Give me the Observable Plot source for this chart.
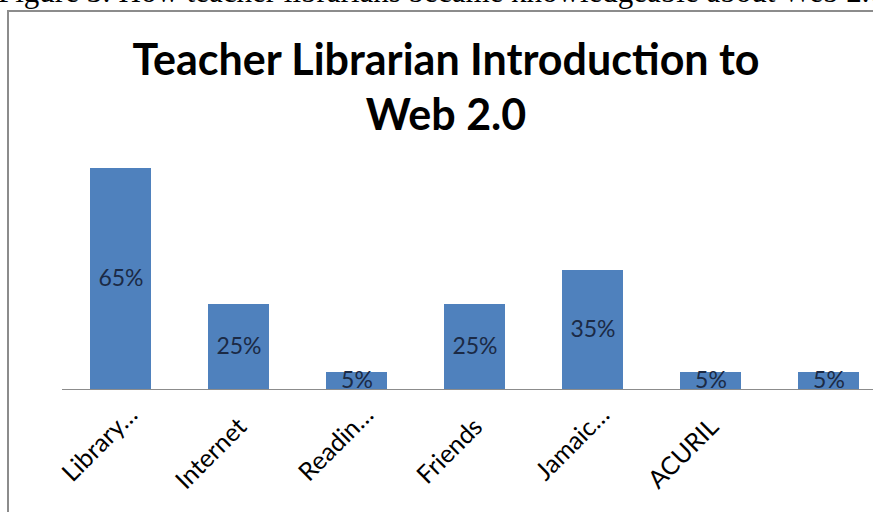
<!DOCTYPE html>
<html><head><meta charset="utf-8">
<script src="https://cdn.jsdelivr.net/npm/d3@7"></script>
<script src="https://cdn.jsdelivr.net/npm/@observablehq/plot@0.6"></script>
<style>
html,body{margin:0;padding:0;width:873px;height:512px;overflow:hidden;background:#fff}
#caption{position:absolute;left:-2px;top:-24px;font-family:"Liberation Serif";font-size:31px;line-height:31px;white-space:nowrap;color:#000}
#box{position:absolute;left:7px;top:10px;width:900px;height:520px;border-left:2px solid #8c8c8c;border-top:2px solid #8c8c8c;background:#fff}
#title{position:absolute;left:0;top:31px;width:892px;text-align:center;font-family:Lato;font-weight:bold;font-size:43px;line-height:55px;color:#000}
#chart{position:absolute;left:0;top:0;width:888px;height:512px}
#chart svg{max-width:none !important;width:888px !important;height:512px !important}
</style></head>
<body>
<div id="caption">Figure 3: How teacher librarians became knowledgeable about Web 2.0</div>
<div id="box"></div>
<div id="chart"></div>
<div id="title">Teacher Librarian Introduction to<br>Web 2.0</div>
<script>
const categories = ["Library…", "Internet", "Readin…", "Friends", "Jamaic…", "ACURIL", ""];
const values = [65, 25, 5, 25, 35, 5, 5];
const data = categories.map((c, i) => ({cat: c, value: values[i]}));
const truncated = data.filter(d => d.cat.endsWith("…"));
const full = data.filter(d => !d.cat.endsWith("…"));

const chart = Plot.plot({
  width: 888,
  height: 512,
  marginLeft: 62,
  marginRight: 0,
  marginTop: 151,
  marginBottom: 123,
  style: {background: "transparent", fontFamily: "Lato", maxWidth: "none"},
  x: {axis: null, domain: categories, paddingInner: 0.48, paddingOuter: 0.24},
  y: {axis: null, domain: [0, 70]},
  marks: [
    Plot.barY(data, {x: "cat", y: "value", fill: "#4F81BD"}),
    Plot.ruleY([0], {stroke: "#8c8c8c", strokeWidth: 1.2}),
    Plot.text(data, {x: "cat", y: d => d.value / 2, text: d => d.value + "%", fill: "#1b2a45", fontSize: 23, fontFamily: "Lato"}),
    Plot.text(truncated, {x: "cat", y: 0, text: "cat", rotate: -45, textAnchor: "end", lineAnchor: "bottom", dx: 18, dy: 27, fontSize: 25, fill: "#000", fontFamily: "Lato"}),
    Plot.text(full, {x: "cat", y: 0, text: "cat", rotate: -45, textAnchor: "end", lineAnchor: "bottom", dx: 9, dy: 39, fontSize: 25, fill: "#000", fontFamily: "Lato"})
  ]
});
document.getElementById("chart").appendChild(chart);
</script>
</body></html>
